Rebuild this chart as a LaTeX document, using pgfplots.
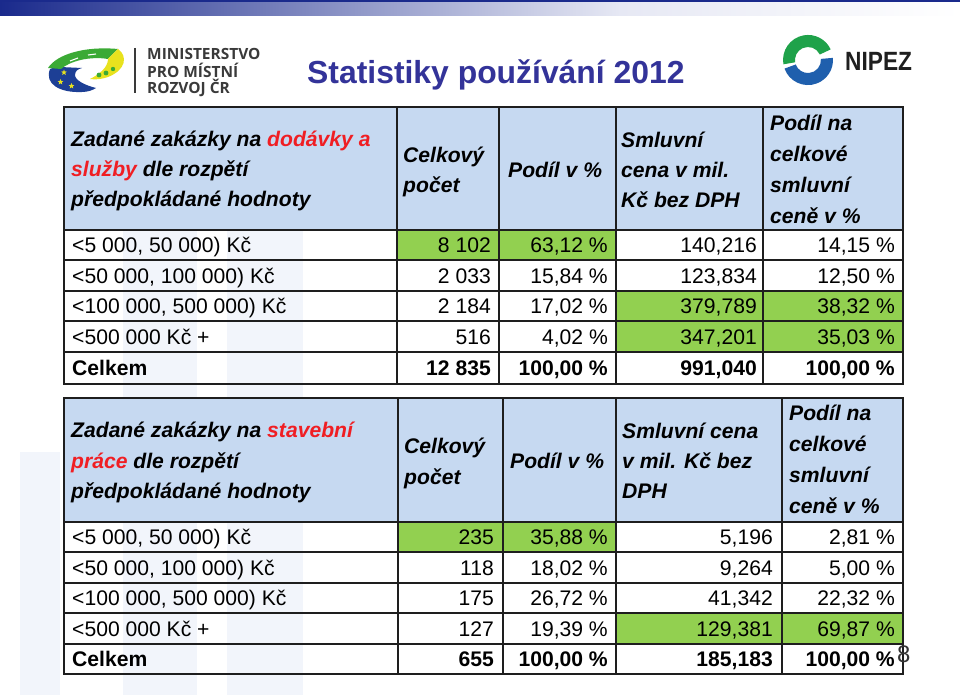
\documentclass[border=0pt]{standalone}
\usepackage{fontspec}
\setmainfont{Liberation Sans}
\newfontfamily\osans{Open Sans}
\usepackage{pgfplots}
\pgfplotsset{compat=1.18}
\usetikzlibrary{shapes.geometric}

\definecolor{hdr}{HTML}{C6D9F1}
\definecolor{grn}{HTML}{92D050}
\definecolor{ttl}{HTML}{333399}
\definecolor{redx}{HTML}{F01E23}
\definecolor{wm}{HTML}{F2F5FB}
\definecolor{navy}{HTML}{1A2A8C}
\definecolor{barend}{HTML}{E6E8F4}
\definecolor{gridc}{HTML}{1E1E1E}
\definecolor{mmrtext}{HTML}{3A3A3A}
\definecolor{ngreen}{HTML}{1FA24A}
\definecolor{nblue}{HTML}{1F5FAD}
\definecolor{lgreen}{HTML}{3BAA35}
\definecolor{lyel}{HTML}{E8E21E}
\definecolor{lblue}{HTML}{1D3F95}

\tikzset{
  bt/.style={font=\fontsize{21.2}{25}\selectfont, inner sep=0pt},
  hd/.style={font=\fontsize{21.2}{24}\selectfont\bfseries\itshape, inner sep=0pt, anchor=base west},
  eustar/.style={star, star points=5, star point ratio=2.3, fill=lyel, inner sep=0pt, minimum size=6bp},
}

% one body row of the first table: baseline, label, four values
\newcommand{\rowA}[6]{%
  \node[bt,anchor=base west] at (72,#1) {#2};
  \node[bt,anchor=base east] at (491,#1) {#3};
  \node[bt,anchor=base east] at (608,#1) {#4};
  \node[bt,anchor=base east] at (757,#1) {#5};
  \node[bt,anchor=base east] at (895,#1) {#6};}
% the same for the second table
\newcommand{\rowB}[6]{%
  \node[bt,anchor=base west] at (72,#1) {#2};
  \node[bt,anchor=base east] at (494,#1) {#3};
  \node[bt,anchor=base east] at (608,#1) {#4};
  \node[bt,anchor=base east] at (773,#1) {#5};
  \node[bt,anchor=base east] at (895,#1) {#6};}

\begin{document}
\begin{tikzpicture}
\begin{axis}[
    scale only axis,
    width=960bp, height=695bp,
    xmin=0, xmax=960, ymin=0, ymax=695,
    y dir=reverse,
    axis lines=none, ticks=none,
    clip=false,
]
% background and watermark
\fill[white] (0,0) rectangle (960,695);
\fill[wm] (123,106) rectangle (197,695);
\fill[wm] (227,106) rectangle (303,695);
\fill[wm] (20,452) rectangle (60,695);

% top bar
\shade[left color=navy, right color=barend] (0,0) rectangle (620,16);
\shade[left color=barend, right color=white] (620,0) rectangle (960,16);
\fill[navy] (0,0) rectangle (960,2.5);

% ministry logo
\fill[lblue] (50,69) .. controls (44,84) and (60,93) .. (82,92)
   .. controls (88,92) and (93,90) .. (96,88)
   .. controls (84,85) and (75,80) .. (75,75)
   .. controls (75,71) and (78,69) .. (82,68)
   -- (60,67) .. controls (56,67) and (52,68) .. (50,69) -- cycle;
\fill[lgreen] (48,68) .. controls (57,54) and (85,46) .. (118,49)
   -- (108,59) .. controls (90,56) and (70,61) .. (61,69) -- cycle;
\draw[white, line width=1.1bp] (70,61) -- (78,58) (88,55) -- (96,54);
\fill[lyel] (118,49) .. controls (128,56) and (126,70) .. (108,77)
   .. controls (102,79) and (96,80) .. (90,79)
   .. controls (100,74) and (108,67) .. (108,59) -- cycle;
\fill[lgreen] (99,75) circle[radius=2.4bp] (106,73) circle[radius=2.4bp] (113,69) circle[radius=2.2bp];
\node[eustar] at (64,72.5) {};
\node[eustar] at (60.5,82) {};
\node[eustar] at (71.5,86) {};
\draw[mmrtext, line width=1.2bp] (135,48) -- (135,93);
\node[anchor=base west, inner sep=0pt, text=mmrtext, font=\osans\bfseries\fontsize{15.5}{18}\selectfont] at (147,59.5) {MINISTERSTVO};
\node[anchor=base west, inner sep=0pt, text=mmrtext, font=\osans\bfseries\fontsize{15.5}{18}\selectfont] at (147,77.5) {PRO MÍSTNÍ};
\node[anchor=base west, inner sep=0pt, text=mmrtext, font=\osans\bfseries\fontsize{15.5}{18}\selectfont] at (147,93.5) {ROZVOJ ČR};

% title
\node[anchor=base west, inner sep=0pt, text=ttl, font=\fontsize{32}{36}\selectfont\bfseries] at (307,84) {Statistiky používání 2012};

% NIPEZ logo
\fill[ngreen] (783.4,64.3) arc[start angle=190, end angle=25, radius=25bp]
   -- (819.8,54.5) arc[start angle=25, end angle=190, radius=13bp] -- cycle;
\fill[nblue] (784.5,68.6) arc[start angle=200, end angle=365, radius=25bp]
   -- (820.9,58.9) arc[start angle=365, end angle=200, radius=13bp] -- cycle;
\node[anchor=base west, inner sep=0pt, text=black!88, font=\fontsize{26.5}{30}\selectfont\bfseries, xscale=0.86] at (845,71) {NIPEZ};

% ---------- table 1: dodávky a služby ----------
\fill[hdr] (64,107) rectangle (903,230);
\fill[grn] (397,230) rectangle (616,260);
\fill[grn] (616,291) rectangle (903,352);

\node[hd] at (71,146) {Zadané zakázky na \textcolor{redx}{dodávky a}};
\node[hd] at (71,176) {\textcolor{redx}{služby} dle rozpětí};
\node[hd] at (71,206) {předpokládané hodnoty};
\node[hd] at (403,162) {Celkový};
\node[hd] at (403,192) {počet};
\node[hd] at (508,177) {Podíl v \%};
\node[hd] at (621,147) {Smluvní};
\node[hd] at (621,177) {cena v mil.};
\node[hd] at (621,207) {Kč bez DPH};
\node[hd] at (770,130) {Podíl na};
\node[hd] at (770,161) {celkové};
\node[hd] at (770,192) {smluvní};
\node[hd] at (770,223) {ceně v \%};

\rowA{252.5}{<5 000, 50 000) Kč}{8 102}{63,12 \%}{140,216}{14,15 \%}
\rowA{283}{<50 000, 100 000) Kč}{2 033}{15,84 \%}{123,834}{12,50 \%}
\rowA{313.5}{<100 000, 500 000) Kč}{2 184}{17,02 \%}{379,789}{38,32 \%}
\rowA{344}{<500 000 Kč +}{516}{4,02 \%}{347,201}{35,03 \%}
\rowA{375.5}{\textbf{Celkem}}{\textbf{12 835}}{\textbf{100,00 \%}}{\textbf{991,040}}{\textbf{100,00 \%}}

\draw[gridc, line width=1.4bp]
  (64,230) -- (903,230) (64,260) -- (903,260) (64,291) -- (903,291)
  (64,321) -- (903,321) (64,352) -- (903,352)
  (397,107) -- (397,384) (499,107) -- (499,384)
  (616,107) -- (616,384) (763,107) -- (763,384);
\draw[gridc, line width=1.8bp] (64,107) rectangle (903,384);

% ---------- table 2: stavební práce ----------
\fill[hdr] (64,398) rectangle (903,522);
\fill[grn] (398,522) rectangle (616,552);
\fill[grn] (616,613) rectangle (903,644);

\node[hd] at (71,437) {Zadané zakázky na \textcolor{redx}{stavební}};
\node[hd] at (71,468) {\textcolor{redx}{práce} dle rozpětí};
\node[hd] at (71,498) {předpokládané hodnoty};
\node[hd] at (404,453) {Celkový};
\node[hd] at (404,484) {počet};
\node[hd] at (510,468) {Podíl v \%};
\node[hd] at (622,438) {Smluvní cena};
\node[hd] at (622,468) {v mil. Kč bez};
\node[hd] at (622,498) {DPH};
\node[hd] at (789,420) {Podíl na};
\node[hd] at (789,451) {celkové};
\node[hd] at (789,482) {smluvní};
\node[hd] at (789,513) {ceně v \%};

\rowB{544.5}{<5 000, 50 000) Kč}{235}{35,88 \%}{5,196}{2,81 \%}
\rowB{575}{<50 000, 100 000) Kč}{118}{18,02 \%}{9,264}{5,00 \%}
\rowB{605.5}{<100 000, 500 000) Kč}{175}{26,72 \%}{41,342}{22,32 \%}
\rowB{636}{<500 000 Kč +}{127}{19,39 \%}{129,381}{69,87 \%}
\rowB{666.5}{\textbf{Celkem}}{\textbf{655}}{\textbf{100,00 \%}}{\textbf{185,183}}{\textbf{100,00 \%}}

\draw[gridc, line width=1.4bp]
  (64,522) -- (903,522) (64,552) -- (903,552) (64,583) -- (903,583)
  (64,613) -- (903,613) (64,644) -- (903,644)
  (398,398) -- (398,674) (503,398) -- (503,674)
  (616,398) -- (616,674) (782,398) -- (782,674);
\draw[gridc, line width=1.8bp] (64,398) rectangle (903,674);

% slide number
\node[anchor=base west, inner sep=0pt, text=black!80, font=\fontsize{24}{28}\selectfont] at (897,662) {8};
\end{axis}
\end{tikzpicture}
\end{document}
